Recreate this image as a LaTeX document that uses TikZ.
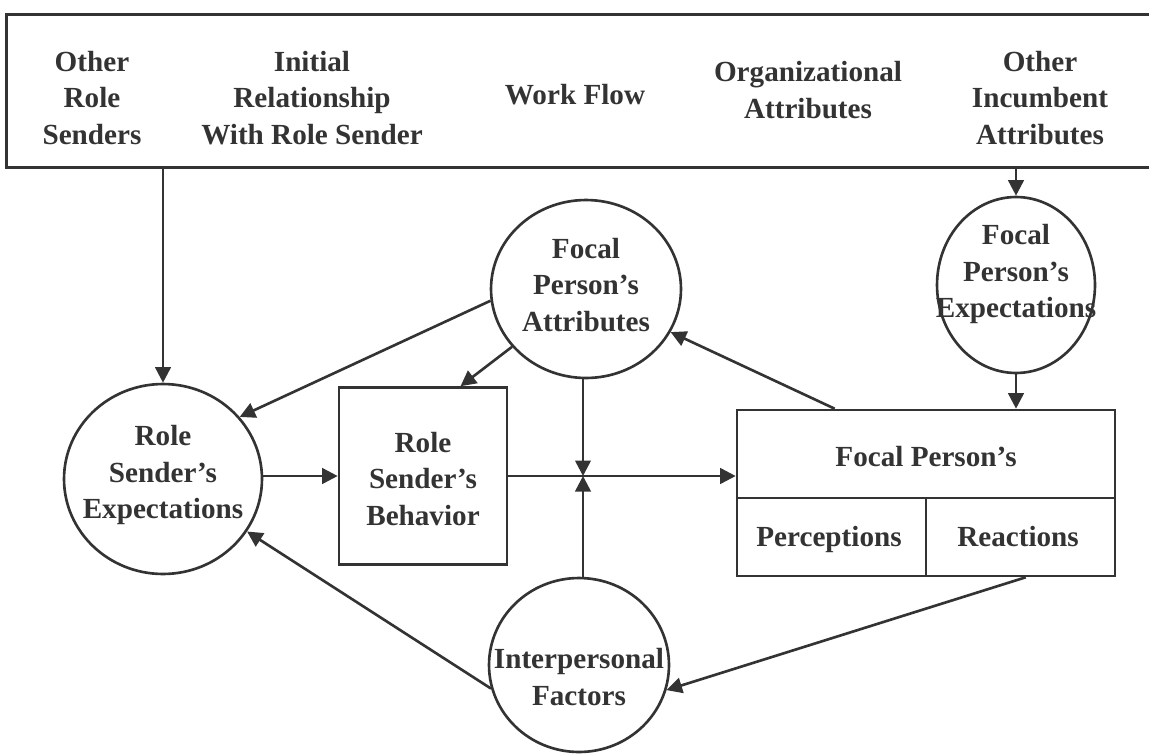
\documentclass[tikz,border=0pt]{standalone}
\usepackage{fontspec}
\setmainfont{Liberation Serif}
\usetikzlibrary{shapes.geometric,arrows.meta,calc}
\definecolor{ink}{HTML}{333333}
\begin{document}
\begin{tikzpicture}[x=0.02cm,y=-0.02cm,
  lbl/.style={font=\fontsize{16.6}{21}\selectfont\bfseries, text=ink, align=center, inner sep=0pt},
  ring/.style={ellipse, draw=ink, line width=1.5pt, inner sep=0pt, fill=white},
  boxx/.style={rectangle, draw=ink, line width=1.5pt, inner sep=0pt},
  arr/.style={draw=ink, line width=1.5pt, -{Triangle[length=0.31cm,width=0.31cm]}},
  ln/.style={draw=ink, line width=1.5pt}]
\useasboundingbox (0,0) rectangle (1149,754);
\clip (0,0) rectangle (1149,754);
% top box
\node[boxx, line width=1.7pt, minimum width=23.4cm, minimum height=3.06cm, anchor=north west] (top) at (5,13) {};
\node[lbl] (t1) at (92,98) {Other\\Role\\Senders};
\node[lbl] (t2) at (312,98) {Initial\\Relationship\\With Role Sender};
\node[lbl] (t3) at (575,95) {Work Flow};
\node[lbl] (t4) at (808,90) {Organizational\\Attributes};
\node[lbl] (t5) at (1040,98) {Other\\Incumbent\\Attributes};
% circles and boxes
\node[ring, minimum width=3.96cm, minimum height=3.8cm] (rse) at (163,479) {};
\node[lbl] (rset) at (163,475) {Role\\Sender’s\\Expectations};
\node[boxx, minimum width=3.36cm, minimum height=3.54cm] (beh) at (423,476) {};
\node[lbl] (beht) at (423,479) {Role\\Sender’s\\Behavior};
\node[ring, minimum width=3.8cm, minimum height=3.56cm] (fpa) at (586,289) {};
\node[lbl] (fpat) at (586,285) {Focal\\Person’s\\Attributes};
\node[ring, minimum width=3.16cm, minimum height=3.52cm] (fpe) at (1016,285) {};
\node[lbl] (fpet) at (1016,274) {Focal\\Person’s\\Expectations};
\node[ring, minimum width=3.6cm, minimum height=3.48cm] (ip) at (579,665) {};
\node[lbl] (ipt) at (579,677) {Interpersonal\\Factors};
\node[boxx, minimum width=7.56cm, minimum height=3.32cm] (fb) at (926,493) {};
\coordinate (dv) at (926,498);
\draw[ln] (fb.west |- dv) -- (fb.east |- dv);
\draw[ln] (dv) -- (dv |- fb.south);
\node[lbl, anchor=base] (fbt) at (926,466) {Focal Person’s};
\node[lbl, anchor=base] (perc) at (829,546) {Perceptions};
\node[lbl, anchor=base] (reac) at (1018,546) {Reactions};
% connectors
\coordinate (j) at (583,476);
\draw[arr] (top.south -| rse.north) -- (rse.north);
\draw[arr] (top.south -| fpe.north) -- (fpe.north);
\draw[arr] (fpe.south) -- (fpe.south |- fb.north);
\draw[arr] (fpa.187) -- (rse.39);
\draw[arr] (fpa.218) -- ($(beh.north west)!0.72!(beh.north east)$);
\draw[arr] (j |- fpa.south) -- (j);
\draw[arr] (j |- ip.north) -- (j);
\draw[arr] (rse.east |- beh.west) -- (beh.west);
\draw[arr] (beh.east) -- (beh.east -| fb.west);
\draw[arr] ($(fb.north west)!0.26!(fb.north east)$) -- (fpa.333);
\draw[arr] ($(fb.south west)!0.762!(fb.south east)$) -- (ip.344);
\draw[arr] (ip.195) -- (rse.328);
\end{tikzpicture}
\end{document}
